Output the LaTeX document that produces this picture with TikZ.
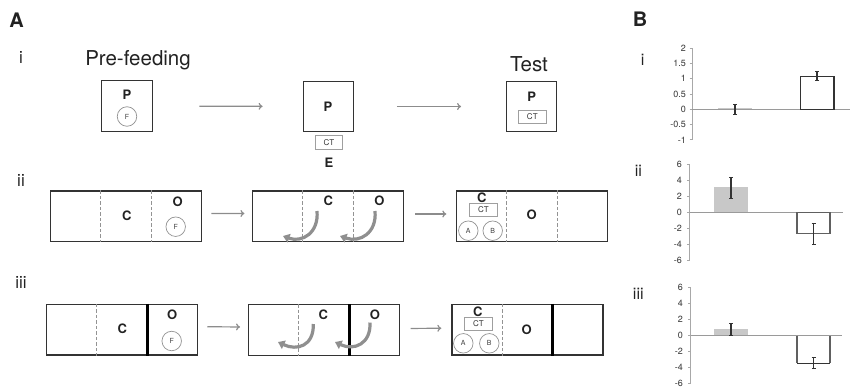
\documentclass[tikz,border=0pt]{standalone}
\usepackage{fontspec}
\setmainfont{TeX Gyre Heros}
\usetikzlibrary{arrows.meta,calc}
\definecolor{boxc}{HTML}{333333}
\definecolor{flowc}{HTML}{8C8C8C}
\definecolor{turnc}{HTML}{8F8F8F}
\definecolor{barg}{HTML}{C8C8C8}
\definecolor{axc}{HTML}{A8A8A8}
\definecolor{zeroc}{HTML}{9A9A9A}
\definecolor{txtc}{HTML}{222222}
\tikzset{
  cell/.style={draw=boxc, line width=1.3pt, minimum width=151pt, minimum height=50.5pt, inner sep=0pt},
  sqbox/.style={draw=boxc, line width=1.3pt, minimum width=50.5pt, minimum height=50.5pt, inner sep=0pt},
  lab/.style={font=\fontsize{13}{14}\selectfont\bfseries, text=txtc, inner sep=0pt},
  food/.style={circle, draw=gray!85, line width=0.7pt, minimum size=19.5pt, inner sep=0pt, font=\fontsize{7}{8}\selectfont, text=black!75},
  ctbox/.style={draw=gray!75, line width=0.9pt, minimum width=28.4pt, minimum height=13.6pt, inner sep=0pt, font=\fontsize{8}{9}\selectfont, text=black!80},
  flow/.style={draw=flowc, line width=1.2pt, -{To[length=4pt,width=7pt]}},
  turn/.style={draw=turnc, line width=3.2pt, -{Triangle[length=6.5pt,width=9pt]}},
  divd/.style={draw=gray!85, line width=1pt, dash pattern=on 3.5pt off 2pt},
  wall/.style={draw=black, line width=3pt},
  rom/.style={font=\fontsize{17}{20}\selectfont, text=txtc, anchor=base, inner sep=0pt},
  romb/.style={font=\fontsize{16}{19}\selectfont, text=txtc, anchor=base, inner sep=0pt},
  head/.style={font=\fontsize{20.5}{24}\selectfont, text=txtc, anchor=base, inner sep=0pt},
  panel/.style={font=\fontsize{20}{24}\selectfont\bfseries, text=txtc, anchor=base, inner sep=0pt},
  ticklab/.style={font=\fontsize{9}{10}\selectfont, anchor=east, inner sep=0.5pt, text=black!80},
  axisl/.style={draw=axc, line width=0.8pt},
  zerol/.style={draw=zeroc, line width=1.2pt},
  errb/.style={draw=boxc, line width=1.1pt, {Bar[width=4pt]}-{Bar[width=4pt]}},
}
\begin{document}
\begin{tikzpicture}[x=1pt,y=-1pt]
\useasboundingbox (0,0) rectangle (850,388);

% ---------- Panel labels ----------
\node[panel] (pA) at (16.5,27) {A};
\node[panel] (pB) at (640,26.7) {B};
\node[rom] (ri) at (21,63) {i};
\node[rom] (rii) at (21,186) {ii};
\node[rom] (riii) at (21,288) {iii};
\node[head] (pre) at (138,65) {Pre-feeding};
\node[head] (test) at (529,71.5) {Test};

% ---------- Row i ----------
\node[sqbox] (i1) at (127,106) {};
\node[lab] (i1p) at (127,94.5) {P};
\node[food] (i1f) at (127,116.5) {F};
\node[sqbox] (i2) at (328.5,106.5) {};
\node[lab] (i2p) at (328,106.5) {P};
\node[ctbox, minimum width=27.7pt] (i2ct) at (329,142.5) {CT};
\node[lab] (i2e) at (329,163) {E};
\node[sqbox] (i3) at (531.5,106.5) {};
\node[lab] (i3p) at (531.7,97) {P};
\node[ctbox] (i3ct) at (532.3,117) {CT};
\draw[flow, shorten <=46.5pt, shorten >=40pt] (i1) -- (i2);
\draw[flow, shorten <=42.5pt, shorten >=44.5pt] (i2) -- (i3);

% ---------- Row ii ----------
\node[cell] (a1) at (126.3,216.2) {};
\node[cell] (a2) at (328.3,216.3) {};
\node[cell] (a3) at (531.8,216.3) {};
\foreach \n in {a1,a2,a3}{
  \draw[divd] ($(\n.north west)!1/3!(\n.north east)$) -- ($(\n.south west)!1/3!(\n.south east)$);
  \draw[divd] ($(\n.north west)!2/3!(\n.north east)$) -- ($(\n.south west)!2/3!(\n.south east)$);
}
\node[lab] (a1c) at (126.7,215.7) {C};
\node[lab] (a1o) at (177.7,201.7) {O};
\node[food] (a1f) at (175.7,226.7) {F};
\node[lab] (a2c) at (328.3,201) {C};
\node[lab] (a2o) at (379.3,201) {O};
\draw[turn] (317,211) .. controls (319,233) and (302,243) .. (283,236);
\draw[turn] (375,211) .. controls (377,233) and (360,243) .. (340,236);
\node[lab] (a3c) at (481.7,197.7) {C};
\node[ctbox] (a3ct) at (483.5,210) {CT};
\node[food] (a3a) at (468.3,230.7) {A};
\node[food] (a3b) at (492.7,230.7) {B};
\node[lab] (a3o) at (531.7,214.3) {O};
\draw[flow, shorten <=9pt, shorten >=7.7pt] ([yshift=2.8pt]a1.east) -- ([yshift=2.8pt]a2.west);
\draw[flow, shorten <=11pt, shorten >=9.3pt] ([yshift=2.3pt]a2.east) -- ([yshift=2.3pt]a3.west);

% ---------- Row iii ----------
\node[cell] (b1) at (121.7,329.7) {};
\node[cell] (b2) at (323.8,330) {};
\node[cell] (b3) at (527.5,329.7) {};
\foreach \n in {b1,b2,b3}{
  \draw[divd] ($(\n.north west)!1/3!(\n.north east)$) -- ($(\n.south west)!1/3!(\n.south east)$);
  \draw[wall] ($(\n.north west)!2/3!(\n.north east)$) -- ($(\n.south west)!2/3!(\n.south east)$);
}
\node[lab] (b1c) at (122.3,328.3) {C};
\node[lab] (b1o) at (172.3,314.3) {O};
\node[food] (b1f) at (171.7,341) {F};
\node[lab] (b2c) at (323.3,314.3) {C};
\node[lab] (b2o) at (375,314.3) {O};
\draw[turn] (313.3,324) .. controls (314,346) and (297,351) .. (278,342);
\draw[turn] (370,322.5) .. controls (371,344) and (354,351) .. (335,342);
\node[lab] (b3c) at (477.7,311.7) {C};
\node[ctbox] (b3ct) at (478.5,324) {CT};
\node[food] (b3a) at (463.3,343.3) {A};
\node[food] (b3b) at (489.3,343.3) {B};
\node[lab] (b3o) at (526.7,329.3) {O};
\draw[flow, shorten <=9.4pt, shorten >=7.6pt] ([yshift=3pt]b1.east) -- ([yshift=3pt]b2.west);
\draw[flow, shorten <=10.7pt, shorten >=10pt] ([yshift=1.5pt]b2.east) -- ([yshift=1.5pt]b3.west);

% ---------- Panel B ----------
\node[romb] (bi) at (642.7,65) {i};
\node[romb] (bii) at (638.3,176.7) {ii};
\node[romb] (biii) at (638.3,299.5) {iii};

% chart i
\draw[axisl] (692,48.2) -- (692,139.9);
\foreach \v in {2,1.5,1,0.5,0,-0.5,-1}{
  \draw[axisl] (689.5,{109.3-30.57*\v}) -- (692,{109.3-30.57*\v});
  \node[ticklab] at (686.5,{109.3-30.57*\v}) {\v};
}
\fill[barg] (718.3,107.8) rectangle (751.7,109.3);
\draw[zerol] (692,109.3) -- (850,109.3);
\draw[draw=boxc, line width=1.2pt, fill=white] (800.7,109.3) rectangle (834,76.3);
\draw[errb] (735,104.3) -- (735,115);
\draw[errb] (817,71.3) -- (817,81.3);

% chart ii
\draw[axisl] (689.5,164) -- (689.5,260.8);
\foreach \v in {6,4,2,0,-2,-4,-6}{
  \draw[axisl] (687,{212.4-8.07*\v}) -- (689.5,{212.4-8.07*\v});
  \node[ticklab] at (682.5,{212.4-8.07*\v}) {\v};
}
\fill[barg] (714.3,187.3) rectangle (747.7,212.4);
\draw[zerol] (689.5,212.4) -- (842.7,212.4);
\draw[draw=gray!75!black, line width=1.5pt, fill=white] (797,212.4) rectangle (830,233.7);
\draw[errb] (731,176.7) -- (731,199);
\draw[errb] (813.7,222.7) -- (813.7,245);

% chart iii
\draw[axisl] (690.5,287.2) -- (690.5,383.8);
\foreach \v in {6,4,2,0,-2,-4,-6}{
  \draw[axisl] (688,{335.5-8.05*\v}) -- (690.5,{335.5-8.05*\v});
  \node[ticklab] at (683.5,{335.5-8.05*\v}) {\v};
}
\fill[barg] (714.3,329) rectangle (747.7,335.5);
\draw[zerol] (690.5,335.5) -- (841.7,335.5);
\draw[draw=gray!75!black, line width=1.5pt] (797,335.5) -- (797,363.3);
\draw[draw=gray!75!black, line width=1.5pt] (830,335.5) -- (830,363.3);
\draw[draw=boxc, line width=1.3pt] (797,363.3) -- (830,363.3);
\draw[errb] (731,323.3) -- (731,336);
\draw[errb] (813.7,357.3) -- (813.7,369.3);
\end{tikzpicture}
\end{document}
